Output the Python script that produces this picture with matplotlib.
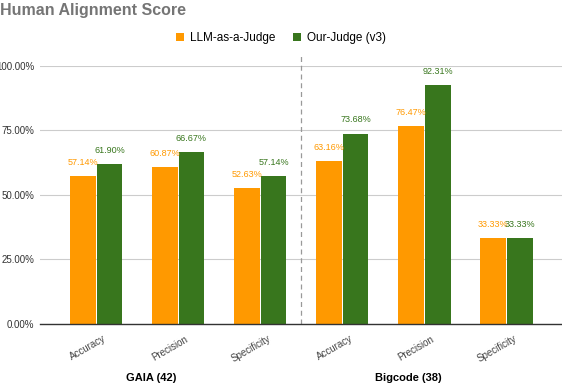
import numpy as np
import matplotlib.pyplot as plt
import matplotlib.transforms as mtransforms
from matplotlib.ticker import FuncFormatter

plt.rcParams['font.family'] = ['Liberation Sans', 'DejaVu Sans']

# Data
metrics = ['Accuracy', 'Precision', 'Specificity', 'Accuracy', 'Precision', 'Specificity']
groups = ['GAIA (42)', 'Bigcode (38)']
llm_judge = [57.14, 60.87, 52.63, 63.16, 76.47, 33.33]
our_judge = [61.90, 66.67, 57.14, 73.68, 92.31, 33.33]
series_names = ['LLM-as-a-Judge', 'Our-Judge (v3)']

ORANGE = '#ff9900'
GREEN = '#38761d'
W = 0.315

fig = plt.figure(figsize=(5.62, 3.86), dpi=100)
ax = fig.add_axes([0.0712, 0.1606, 0.9288, 0.6697])

x = np.arange(len(metrics))
b1 = ax.bar(x - W / 2 - 0.006, llm_judge, W, color=ORANGE, label=series_names[0], zorder=3)
b2 = ax.bar(x + W / 2 + 0.006, our_judge, W, color=GREEN, label=series_names[1], zorder=3)

for rect, v in zip(b1, llm_judge):
    ax.text(rect.get_x() + rect.get_width() / 2, v + 3.5, f'{v:.2f}%', ha='center', va='bottom',
            fontsize=6.5, color=ORANGE)
for rect, v in zip(b2, our_judge):
    ax.text(rect.get_x() + rect.get_width() / 2, v + 3.5, f'{v:.2f}%', ha='center', va='bottom',
            fontsize=6.5, color=GREEN)

ax.set_xlim(-0.683, 5.68)
ax.set_ylim(0, 100)
ax.set_yticks([0, 25, 50, 75, 100])
ax.yaxis.set_major_formatter(FuncFormatter(lambda v, p: f'{v:.2f}%'))
ax.grid(axis='y', color='#cccccc', linewidth=0.8, zorder=0)
ax.tick_params(axis='y', length=0, labelsize=7, labelcolor='#333333', pad=4)
ax.set_xticks(x)
ax.set_xticklabels(metrics, rotation=30, ha='right', rotation_mode='anchor', fontsize=7, color='#444444')
ax.tick_params(axis='x', length=0, pad=7)
shift = mtransforms.ScaledTranslation(7 / 100, 0, fig.dpi_scale_trans)
for lab in ax.get_xticklabels():
    lab.set_transform(lab.get_transform() + shift)

for s in ['top', 'right', 'left']:
    ax.spines[s].set_visible(False)
ax.spines['bottom'].set_color('#333333')
ax.spines['bottom'].set_linewidth(1.0)
ax.spines['bottom'].set_zorder(4)

# group separator
ax.axvline(2.5, color='#999999', linestyle=(0, (4, 3)), linewidth=0.9, ymin=0, ymax=1.05, clip_on=False)

# group labels
fig.text(151 / 562, 1 - 378 / 386, groups[0], ha='center', va='center', fontsize=8, fontweight='bold')
fig.text(408 / 562, 1 - 378 / 386, groups[1], ha='center', va='center', fontsize=8, fontweight='bold')

fig.text(0.0, 1 - 10 / 386, 'Human Alignment Score', ha='left', va='center', fontsize=11.5,
         fontweight='bold', color='#757575')

fig.legend(loc='center', bbox_to_anchor=(0.5, 1 - 38 / 386), ncol=2, frameon=False, fontsize=8.5,
           handlelength=0.7, handleheight=0.7, columnspacing=1.5, handletextpad=0.5)

fig.savefig('out.png', dpi=100)
